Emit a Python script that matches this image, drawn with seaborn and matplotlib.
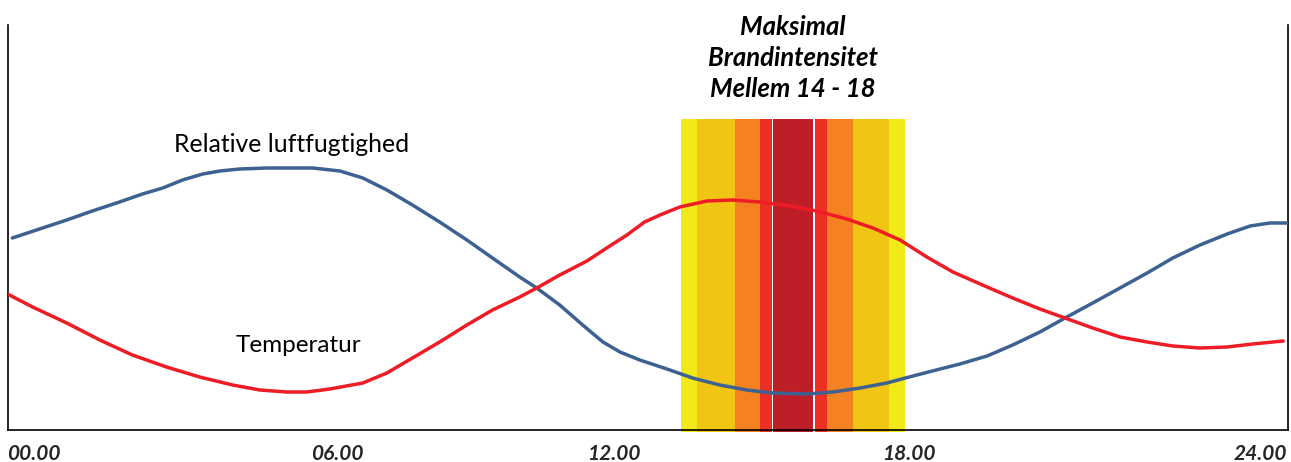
import matplotlib
matplotlib.use("Agg")
import matplotlib.pyplot as plt
import seaborn as sns

# hours along the day, values in relative units (0 = bottom of chart)
humid_hours = [0.09, 0.60, 1.11, 1.59, 2.10, 2.53, 2.91, 3.28, 3.66, 3.98, 4.35, 4.86, 5.34,
               5.72, 6.23, 6.66, 7.11, 7.59, 8.10, 8.61, 9.09, 9.60, 9.92, 10.35, 10.78, 11.16,
               11.48, 11.85, 12.36, 12.84, 13.35, 13.86, 14.34, 14.98, 15.47, 15.98, 16.48, 16.97,
               17.48, 17.85, 18.36, 18.84, 19.35, 19.82, 20.34, 20.85, 21.36, 21.84, 22.35, 22.86,
               23.29, 23.66, 24.0]
humid_values = [192, 201, 210, 219, 228, 236, 242, 250, 256, 259, 261, 262, 262,
                262, 259, 252, 240, 225, 208, 190, 172, 153, 142, 125, 105, 88,
                78, 70, 61, 52, 45, 40, 37, 36, 38, 42, 47, 54,
                61, 66, 74, 85, 98, 112, 127, 142, 157, 172, 185, 196,
                204, 207, 207]

temp_hours = [0.0, 0.47, 1.11, 1.73, 2.34, 2.98, 3.60, 4.22, 4.73, 5.23, 5.61, 6.04, 6.66,
              7.11, 7.59, 8.10, 8.61, 9.09, 9.60, 9.92, 10.35, 10.86, 11.23, 11.61, 11.94, 12.23,
              12.60, 13.11, 13.59, 14.10, 14.66, 15.17, 15.73, 16.22, 16.73, 17.23, 17.72, 18.36,
              18.84, 19.35, 19.82, 20.34, 20.85, 21.36, 21.84, 22.35, 22.86, 23.34, 23.91]
temp_values = [136, 123, 107, 90, 75, 63, 53, 45, 40, 38, 38, 41, 47,
               57, 72, 88, 105, 120, 133, 142, 155, 169, 182, 195, 208, 215,
               223, 229, 230, 228, 224, 219, 211, 202, 190, 173, 158, 143,
               132, 121, 112, 102, 93, 88, 84, 82, 83, 86, 89]

# fire intensity bands (start, end) in hours
band_starts = [12.62, 12.92, 13.63, 14.10, 14.35, 15.13, 15.36, 15.84, 16.52]
band_ends = [12.92, 13.63, 14.10, 14.33, 15.09, 15.36, 15.84, 16.52, 16.82]
band_colors = ["#F2E918", "#F0C514", "#F58220", "#EC3024", "#BE1E27",
               "#EC3024", "#F58220", "#F0C514", "#F2E918"]

tick_pos = [0.49, 6.19, 11.36, 16.89, 23.48]
tick_labels = ["00.00", "06.00", "12.00", "18.00", "24.00"]

sns.set_style("white")
plt.rcParams['font.family'] = ['Lato', 'DejaVu Sans']

fig = plt.figure(figsize=(12.91, 4.62), dpi=100)
ax = fig.add_axes([7.5 / 1291, 32 / 462, 1280.5 / 1291, 405 / 462])

widths = [e - s for s, e in zip(band_starts, band_ends)]
ax.bar(band_starts, 313, width=widths, bottom=-2, align='edge', color=band_colors,
       linewidth=0, clip_on=False, zorder=1)

sns.lineplot(x=humid_hours, y=humid_values, color="#3D6190", linewidth=2.5,
             solid_joinstyle='round', ax=ax, zorder=3)
sns.lineplot(x=temp_hours, y=temp_values, color="#EE1C25", linewidth=2.5,
             solid_joinstyle='round', ax=ax, zorder=3)

ax.set_xlim(0, 24)
ax.set_ylim(0, 405)
ax.set_xticks(tick_pos)
ax.set_xticklabels(tick_labels, fontsize=15, fontweight='bold', fontstyle='italic')
ax.tick_params(axis='x', length=0, pad=10)
ax.set_yticks([])
ax.set_xlabel("")
ax.set_ylabel("")

for side in ["left", "right", "bottom"]:
    ax.spines[side].set_visible(True)
    ax.spines[side].set_color("black")
    ax.spines[side].set_linewidth(1.2)
ax.spines["top"].set_visible(False)

ax.text(5.33, 285, "Relative luftfugtighed", fontsize=17.8, ha='center', va='center', color="black")
ax.text(5.45, 85, "Temperatur", fontsize=17.5, ha='center', va='center', color="black")
ax.text(14.72, 372, "Maksimal\nBrandintensitet\nMellem 14 - 18", fontsize=18.5, fontweight='bold',
        fontstyle='italic', ha='center', va='center', linespacing=1.33, color="black")

fig.savefig("out.png", dpi=100)
